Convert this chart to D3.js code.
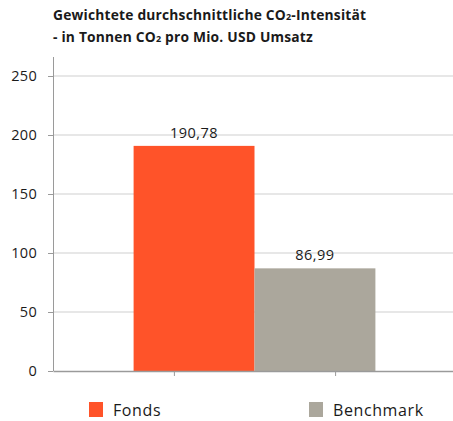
<!DOCTYPE html>
<html>
<head>
<meta charset="utf-8">
<script src="https://cdn.jsdelivr.net/npm/d3@7"></script>
<style>
  html, body { margin: 0; padding: 0; background: #fff; }
  svg { display: block; }
  text { font-family: "Open Sans", "DejaVu Sans", sans-serif; fill: #1a1a1a; }
</style>
</head>
<body>
<svg id="chart" width="453" height="421"></svg>
<script>
// Series and values
const seriesNames = ["Fonds", "Benchmark"];
const seriesValues = [190.78, 86.99];
const seriesColors = ["#FF5329", "#ABA79C"];
const valueLabels = ["190,78", "86,99"];
const yTicks = [0, 50, 100, 150, 200, 250];

const svg = d3.select("#chart");
const W = 453, H = 421;
const plot = { left: 53, right: 456, top: 57, bottom: 371 };

// Title (two lines, CO2 with a subscript 2)
const title = svg.append("g").attr("font-weight", 700).attr("font-size", 13.8).attr("letter-spacing", 0.2);
const t1 = title.append("text").attr("x", 53).attr("y", 20);
t1.append("tspan").text("Gewichtete durchschnittliche CO");
t1.append("tspan").attr("font-size", 9).text("2");
t1.append("tspan").text("-Intensität");
const t2 = title.append("text").attr("x", 53).attr("y", 42);
t2.append("tspan").text("- in Tonnen CO");
t2.append("tspan").attr("font-size", 9).text("2");
t2.append("tspan").text(" pro Mio. USD Umsatz");

// Scales
const y = d3.scaleLinear().domain([0, 250]).range([plot.bottom, 76]);
const xPlot = d3.scaleLinear().domain([0, 1]).range([plot.left, plot.right]);
const x = d3.scaleBand().domain(seriesNames).range([xPlot(0.2), xPlot(0.8)]).padding(0);

// Horizontal gridlines
svg.append("g")
  .selectAll("line")
  .data(yTicks.filter(d => d > 0))
  .join("line")
  .attr("x1", plot.left).attr("x2", W)
  .attr("y1", d => y(d)).attr("y2", d => y(d))
  .attr("stroke", "#cfcfcf").attr("stroke-width", 1.2);

// Y axis
const yAxis = svg.append("g")
  .attr("transform", `translate(${plot.left},0)`)
  .call(d3.axisLeft(y).tickValues(yTicks).tickSize(5).tickPadding(11).tickSizeOuter(0));
yAxis.select(".domain").attr("stroke", "#9a9a9a").attr("d", `M0.5,${plot.top}V${plot.bottom}`);
yAxis.selectAll(".tick line").attr("stroke", "#9a9a9a");
yAxis.selectAll(".tick text")
  .attr("font-size", 14.5).attr("fill", "#1a1a1a").attr("letter-spacing", 0.3)
  .attr("font-family", "'Open Sans', sans-serif");

// Bars
svg.append("g")
  .selectAll("rect")
  .data(seriesValues)
  .join("rect")
  .attr("x", (d, i) => x(seriesNames[i]))
  .attr("width", x.bandwidth())
  .attr("y", d => y(d))
  .attr("height", d => y(0) - y(d))
  .attr("fill", (d, i) => seriesColors[i]);

// Value labels
svg.append("g")
  .selectAll("text")
  .data(seriesValues)
  .join("text")
  .attr("x", (d, i) => x(seriesNames[i]) + x.bandwidth() / 2)
  .attr("y", d => y(d) - 8)
  .attr("text-anchor", "middle")
  .attr("font-size", 14.5)
  .attr("letter-spacing", 0.5)
  .text((d, i) => valueLabels[i]);

// X axis (baseline with two unlabeled ticks)
const xAxis = svg.append("g")
  .attr("transform", `translate(0,${plot.bottom})`)
  .call(d3.axisBottom(xPlot).tickValues([0.3, 0.7]).tickSize(5).tickFormat("").tickSizeOuter(0));
xAxis.select(".domain").attr("stroke", "#9a9a9a").attr("stroke-width", 1.3);
xAxis.selectAll(".tick line").attr("stroke", "#9a9a9a");

// Legend
const legend = svg.append("g")
  .selectAll("g")
  .data(seriesNames)
  .join("g")
  .attr("transform", (d, i) => `translate(${[89, 309][i]},402)`);
legend.append("rect").attr("width", 14).attr("height", 15).attr("fill", (d, i) => seriesColors[i]);
legend.append("text").attr("x", 24).attr("y", 14).attr("font-size", 16).attr("letter-spacing", 0.6).text(d => d);
</script>
</body>
</html>
